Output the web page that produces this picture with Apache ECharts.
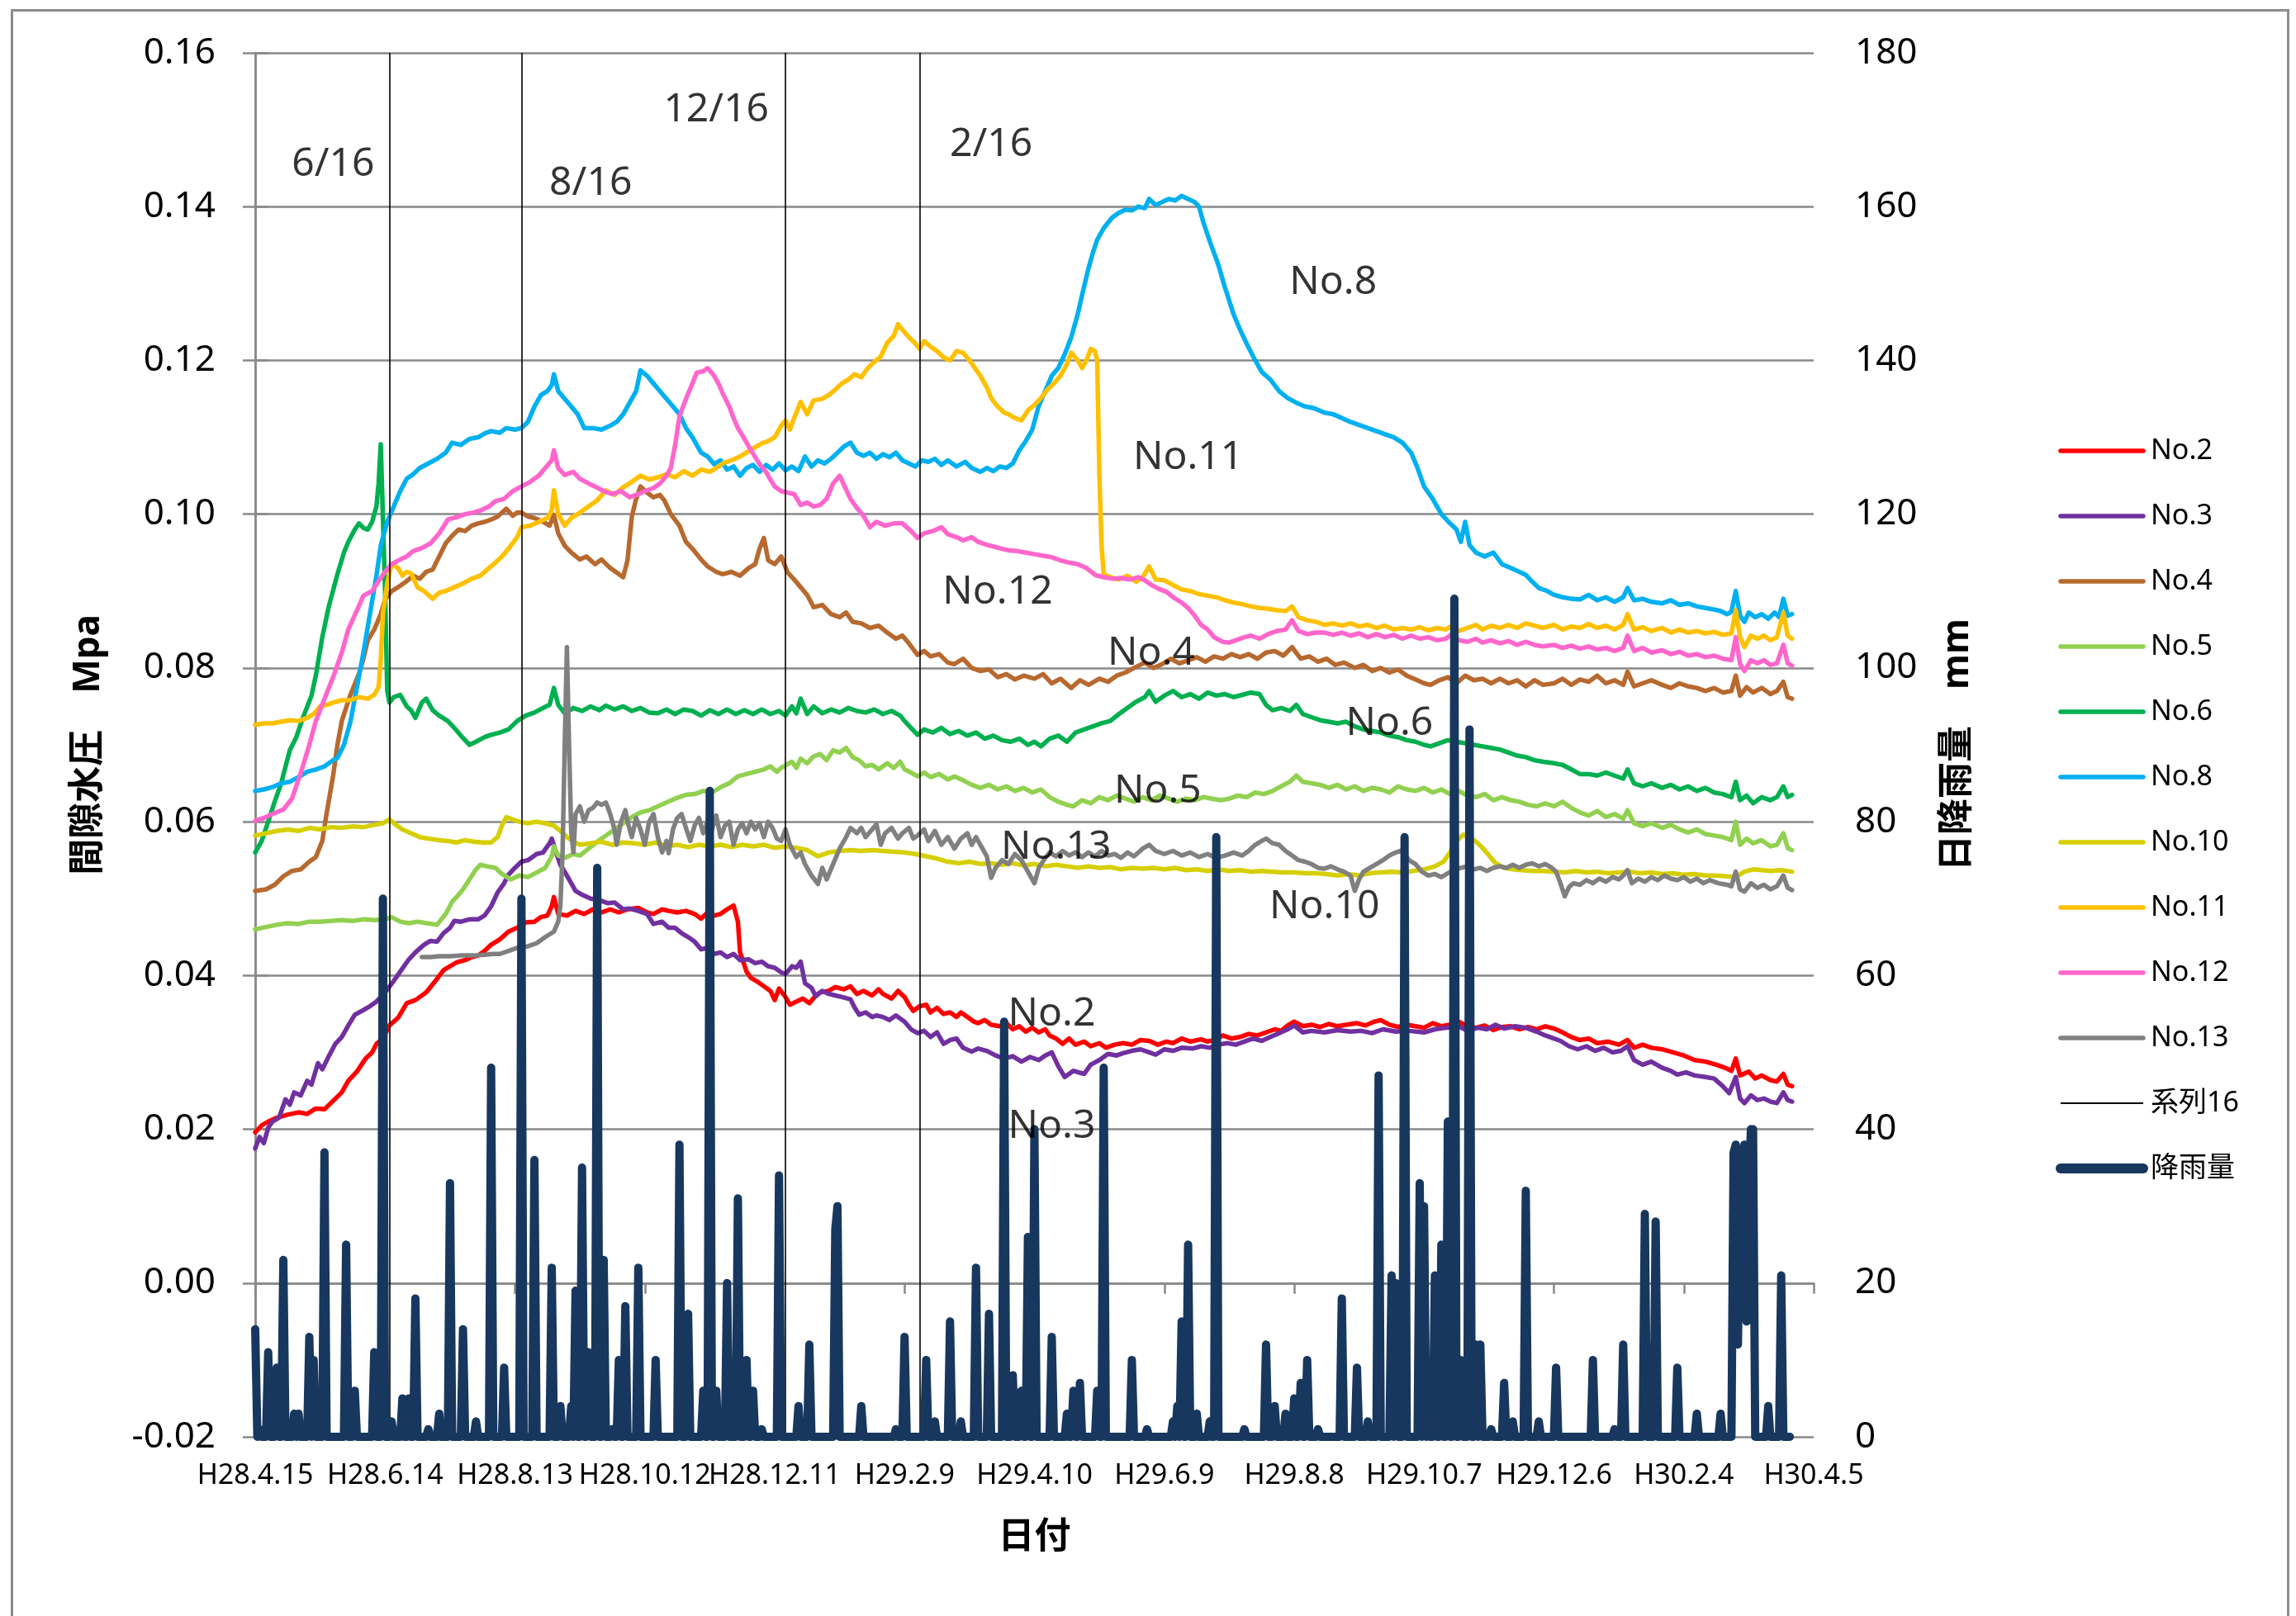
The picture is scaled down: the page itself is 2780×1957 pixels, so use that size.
<!DOCTYPE html>
<html><head><meta charset="utf-8">
<script src="https://cdn.jsdelivr.net/npm/echarts@6/dist/echarts.min.js"></script>
<style>html,body{margin:0;padding:0;background:#fff}#c{width:2780px;height:1957px}</style>
</head><body><div id="c"></div><script>
// x axis: day index from H28.4.15 (day 0); a tick label every 60 days
const xTickLabels = ['H28.4.15','H28.6.14','H28.8.13','H28.10.12','H28.12.11','H29.2.9','H29.4.10','H29.6.9','H29.8.8','H29.10.7','H29.12.6','H30.2.4','H30.4.5'];
const markerDays = [62, 123, 245, 307]; // 6/16, 8/16, 12/16, 2/16  (系列16)

const no2 = [[0,.0196],[3,.0205],[6,.0210],[10,.0215],[15,.0219],[20,.0222],[24,.0220],[28,.0227],[32,.0226],[36,.0237],[40,.0248],[43,.0263],[47,.0275],[51,.0292],[54,.0300],[56,.0311],[59,.0318],[62,.0335],[66,.0345],[70,.0364],[74,.0368],[79,.0378],[83,.0392],[87,.0407],[90,.0412],[93,.0417],[97,.0420],[100,.0424],[103,.0426],[106,.0432],[109,.0440],[113,.0447],[117,.0457],[121,.0462],[125,.0469],[129,.0470],[132,.0476],[135,.0478],[137,.0490],[138,.0502],[140,.0480],[144,.0478],[148,.0484],[152,.0480],[156,.0486],[160,.0482],[164,.0486],[168,.0482],[172,.0486],[177,.0488],[181,.0482],[184,.0480],[188,.0486],[191,.0484],[195,.0482],[199,.0484],[203,.0480],[206,.0474],[209,.0482],[212,.0478],[215,.0480],[218,.0486],[221,.0491],[223,.0470],[224,.0430],[227,.0405],[229,.0397],[232,.0392],[235,.0386],[238,.0380],[240,.0368],[242,.0383],[245,.0372],[247,.0362],[250,.0366],[253,.0370],[256,.0364],[259,.0374],[261,.0378],[265,.0380],[268,.0385],[272,.0382],[275,.0386],[278,.0376],[281,.0380],[285,.0374],[288,.0382],[290,.0376],[294,.0370],[297,.0380],[300,.0372],[302,.0362],[304,.0354],[307,.0360],[310,.0362],[312,.0352],[315,.0358],[318,.0350],[321,.0352],[324,.0346],[326,.0352],[329,.0346],[332,.0340],[334,.0338],[337,.0342],[340,.0336],[344,.0334],[347,.0338],[350,.0330],[353,.0334],[356,.0327],[359,.0332],[362,.0326],[365,.0330],[367,.0322],[370,.0318],[373,.0311],[376,.0318],[379,.0310],[383,.0314],[386,.0308],[390,.0312],[393,.0306],[397,.0310],[401,.0312],[405,.0310],[409,.0316],[413,.0315],[417,.0310],[421,.0314],[424,.0312],[428,.0318],[432,.0314],[437,.0317],[440,.0314],[443,.0316],[447,.0322],[451,.0318],[455,.0320],[459,.0324],[463,.0322],[467,.0326],[471,.0330],[474,.0328],[477,.0335],[480,.0340],[484,.0334],[488,.0336],[492,.0333],[496,.0337],[500,.0334],[504,.0336],[509,.0338],[513,.0335],[517,.0340],[520,.0342],[524,.0336],[528,.0333],[532,.0336],[536,.0334],[540,.0332],[544,.0338],[548,.0334],[552,.0336],[556,.0340],[560,.0334],[564,.0332],[568,.0335],[572,.0329],[576,.0333],[580,.0334],[584,.0330],[588,.0333],[592,.0330],[596,.0334],[600,.0331],[604,.0326],[608,.0320],[612,.0316],[616,.0318],[620,.0312],[625,.0314],[630,.0310],[634,.0316],[637,.0306],[641,.0310],[645,.0306],[650,.0304],[655,.0300],[660,.0296],[665,.0290],[670,.0288],[675,.0284],[679,.0280],[682,.0276],[684,.0292],[686,.0270],[690,.0275],[693,.0266],[696,.0270],[700,.0264],[703,.0262],[706,.0272],[708,.0258],[710,.0256]];

const no3 = [[0,.0175],[2,.0190],[4,.0182],[6,.0202],[8,.0210],[11,.0215],[14,.0239],[16,.0232],[18,.0248],[21,.0244],[24,.0263],[26,.0258],[29,.0286],[31,.0278],[34,.0295],[37,.0311],[40,.0320],[43,.0335],[46,.0349],[50,.0355],[53,.0360],[56,.0366],[60,.0378],[64,.0393],[67,.0405],[71,.0421],[74,.0430],[78,.0440],[81,.0445],[84,.0444],[87,.0455],[90,.0462],[92,.0471],[95,.0470],[99,.0473],[103,.0473],[106,.0478],[109,.0490],[112,.0508],[115,.0520],[117,.0531],[120,.0540],[123,.0548],[126,.0550],[130,.0558],[133,.0560],[136,.0572],[137,.0578],[139,.0560],[141,.0544],[144,.0530],[148,.0510],[151,.0505],[155,.0500],[159,.0498],[163,.0494],[166,.0495],[170,.0486],[173,.0487],[177,.0484],[181,.0480],[184,.0467],[188,.0470],[191,.0462],[194,.0462],[197,.0455],[200,.0450],[203,.0444],[206,.0434],[209,.0436],[212,.0428],[215,.0430],[218,.0424],[221,.0428],[224,.0420],[228,.0421],[231,.0416],[234,.0418],[237,.0412],[240,.0410],[243,.0404],[245,.0402],[248,.0412],[250,.0410],[252,.0418],[254,.0390],[257,.0384],[259,.0373],[262,.0380],[265,.0376],[268,.0374],[271,.0372],[275,.0369],[277,.0358],[279,.0349],[282,.0352],[285,.0346],[287,.0348],[290,.0346],[293,.0342],[296,.0348],[300,.0340],[303,.0330],[306,.0325],[309,.0328],[312,.0320],[315,.0326],[318,.0311],[321,.0316],[324,.0318],[327,.0306],[331,.0301],[334,.0305],[338,.0302],[342,.0296],[346,.0292],[350,.0295],[354,.0288],[358,.0294],[362,.0290],[365,.0296],[368,.0300],[371,.0282],[374,.0268],[378,.0276],[383,.0272],[386,.0284],[390,.0290],[394,.0298],[398,.0296],[401,.0299],[405,.0302],[409,.0304],[413,.0300],[416,.0297],[420,.0304],[424,.0302],[428,.0306],[433,.0305],[437,.0308],[441,.0306],[445,.0310],[449,.0312],[453,.0310],[457,.0314],[461,.0318],[465,.0315],[469,.0320],[473,.0325],[477,.0330],[480,.0335],[484,.0326],[488,.0328],[494,.0326],[500,.0329],[506,.0327],[511,.0328],[516,.0325],[521,.0330],[527,.0327],[533,.0328],[540,.0326],[545,.0330],[550,.0332],[556,.0334],[560,.0328],[565,.0332],[569,.0330],[573,.0336],[577,.0331],[582,.0334],[587,.0332],[592,.0327],[596,.0322],[600,.0318],[603,.0315],[607,.0308],[611,.0304],[615,.0308],[619,.0302],[623,.0306],[627,.0300],[631,.0302],[634,.0308],[637,.0290],[641,.0284],[645,.0288],[650,.0280],[654,.0276],[657,.0271],[661,.0274],[665,.0270],[670,.0268],[674,.0266],[678,.0256],[681,.0247],[684,.0268],[686,.0240],[688,.0234],[691,.0244],[694,.0238],[697,.0240],[700,.0236],[703,.0234],[706,.0248],[708,.0238],[710,.0236]];

const no4 = [[0,.0510],[5,.0512],[9,.0518],[13,.0529],[17,.0536],[21,.0538],[25,.0548],[28,.0554],[31,.0575],[33,.0611],[36,.0660],[38,.0700],[40,.0731],[44,.0765],[48,.0793],[50,.0812],[52,.0836],[55,.0850],[58,.0870],[60,.0889],[63,.0900],[66,.0905],[70,.0913],[73,.0920],[76,.0916],[79,.0925],[82,.0928],[85,.0945],[88,.0962],[91,.0972],[94,.0980],[97,.0978],[100,.0985],[103,.0988],[106,.0990],[109,.0993],[112,.0997],[116,.1007],[119,.0998],[121,.1002],[123,.1002],[126,.0997],[129,.0995],[133,.0990],[136,.0985],[138,.0999],[140,.0975],[143,.0959],[146,.0950],[150,.0941],[153,.0945],[157,.0935],[160,.0941],[164,.0930],[168,.0922],[170,.0918],[172,.0940],[174,.0997],[176,.1020],[178,.1036],[181,.1028],[184,.1022],[187,.1025],[189,.1018],[192,.1000],[196,.0985],[199,.0964],[202,.0955],[206,.0941],[209,.0932],[213,.0925],[216,.0922],[220,.0925],[224,.0920],[228,.0930],[231,.0935],[233,.0955],[235,.0969],[237,.0940],[240,.0935],[243,.0945],[246,.0924],[249,.0915],[252,.0905],[255,.0895],[258,.0879],[262,.0882],[266,.0870],[270,.0866],[273,.0872],[276,.0860],[280,.0858],[284,.0852],[288,.0855],[292,.0846],[296,.0838],[299,.0842],[302,.0832],[306,.0817],[309,.0822],[312,.0815],[316,.0818],[320,.0807],[323,.0805],[327,.0812],[331,.0800],[335,.0796],[339,.0798],[343,.0788],[347,.0792],[351,.0785],[355,.0790],[360,.0786],[364,.0792],[368,.0780],[372,.0786],[377,.0774],[381,.0784],[385,.0778],[390,.0786],[394,.0782],[398,.0790],[402,.0794],[406,.0800],[411,.0807],[415,.0800],[419,.0805],[423,.0812],[427,.0806],[431,.0810],[435,.0814],[439,.0808],[443,.0815],[447,.0812],[451,.0818],[455,.0814],[459,.0818],[463,.0812],[467,.0820],[471,.0822],[475,.0816],[479,.0827],[483,.0812],[487,.0815],[491,.0808],[495,.0812],[499,.0804],[503,.0807],[508,.0800],[512,.0804],[516,.0796],[520,.0800],[524,.0794],[528,.0798],[532,.0790],[536,.0785],[540,.0780],[543,.0778],[547,.0784],[551,.0788],[555,.0780],[559,.0790],[563,.0784],[567,.0786],[571,.0780],[575,.0786],[579,.0780],[583,.0784],[587,.0776],[591,.0784],[595,.0778],[600,.0780],[604,.0786],[608,.0778],[612,.0785],[616,.0782],[620,.0790],[624,.0780],[628,.0784],[632,.0778],[634,.0795],[637,.0776],[641,.0780],[645,.0784],[650,.0778],[654,.0774],[658,.0780],[662,.0776],[666,.0774],[670,.0770],[674,.0774],[678,.0768],[682,.0770],[684,.0790],[686,.0764],[689,.0775],[692,.0768],[696,.0774],[700,.0766],[703,.0770],[706,.0782],[708,.0762],[710,.0760]];

const no5 = [[0,.0460],[5,.0463],[10,.0466],[15,.0468],[20,.0467],[25,.0470],[30,.0470],[35,.0471],[40,.0472],[45,.0471],[50,.0473],[55,.0472],[60,.0473],[63,.0476],[67,.0470],[71,.0468],[75,.0470],[79,.0468],[84,.0466],[88,.0480],[91,.0496],[94,.0505],[96,.0512],[99,.0525],[102,.0538],[104,.0544],[107,.0542],[111,.0540],[114,.0532],[118,.0525],[122,.0530],[126,.0528],[130,.0534],[134,.0540],[137,.0555],[138,.0568],[140,.0556],[143,.0553],[147,.0558],[150,.0556],[154,.0565],[158,.0574],[162,.0582],[166,.0590],[170,.0598],[174,.0606],[178,.0612],[182,.0615],[186,.0620],[190,.0625],[194,.0630],[199,.0635],[203,.0636],[207,.0640],[211,.0638],[215,.0645],[219,.0650],[223,.0659],[227,.0662],[231,.0665],[235,.0668],[238,.0672],[241,.0665],[243,.0670],[246,.0675],[248,.0678],[250,.0670],[252,.0682],[255,.0676],[258,.0685],[261,.0688],[264,.0680],[267,.0693],[270,.0690],[273,.0696],[276,.0684],[279,.0680],[282,.0672],[285,.0674],[288,.0668],[292,.0676],[295,.0670],[298,.0678],[300,.0668],[303,.0664],[306,.0659],[309,.0664],[312,.0658],[316,.0662],[320,.0655],[323,.0659],[327,.0654],[331,.0648],[335,.0644],[339,.0648],[343,.0642],[347,.0646],[351,.0640],[355,.0644],[359,.0638],[363,.0642],[367,.0632],[371,.0626],[375,.0622],[378,.0620],[382,.0628],[386,.0624],[390,.0632],[394,.0628],[398,.0634],[402,.0630],[406,.0626],[410,.0632],[414,.0628],[418,.0634],[422,.0630],[426,.0626],[430,.0630],[434,.0628],[438,.0632],[442,.0630],[446,.0628],[450,.0630],[454,.0634],[458,.0632],[462,.0638],[466,.0636],[470,.0640],[474,.0646],[478,.0652],[481,.0660],[484,.0652],[488,.0650],[492,.0648],[496,.0644],[500,.0648],[504,.0642],[508,.0646],[512,.0640],[516,.0644],[520,.0642],[524,.0638],[528,.0646],[532,.0642],[536,.0640],[540,.0644],[544,.0638],[548,.0642],[552,.0636],[556,.0640],[560,.0634],[564,.0632],[568,.0636],[572,.0628],[576,.0632],[580,.0628],[584,.0626],[588,.0622],[592,.0620],[596,.0624],[600,.0620],[604,.0626],[608,.0618],[612,.0612],[616,.0608],[620,.0614],[624,.0606],[628,.0610],[632,.0604],[634,.0615],[637,.0598],[641,.0594],[645,.0598],[650,.0592],[654,.0596],[658,.0590],[662,.0586],[666,.0590],[670,.0584],[674,.0582],[678,.0580],[682,.0576],[684,.0600],[686,.0570],[689,.0578],[692,.0572],[696,.0576],[700,.0568],[703,.0570],[706,.0585],[708,.0566],[710,.0563]];

const no6 = [[0,.0560],[3,.0575],[6,.0600],[9,.0626],[12,.0650],[16,.0693],[19,.0710],[22,.0735],[26,.0764],[28,.0790],[31,.0840],[34,.0880],[38,.0922],[41,.0950],[43,.0964],[46,.0980],[48,.0988],[50,.0982],[52,.0980],[54,.0990],[56,.1010],[57,.1040],[58,.1091],[60,.0900],[61,.0770],[62,.0755],[64,.0762],[67,.0765],[70,.0750],[72,.0745],[74,.0735],[77,.0755],[79,.0760],[82,.0745],[85,.0738],[89,.0731],[92,.0722],[95,.0712],[99,.0700],[102,.0704],[106,.0710],[109,.0713],[113,.0716],[117,.0720],[121,.0731],[125,.0738],[129,.0742],[133,.0748],[136,.0752],[138,.0774],[140,.0752],[143,.0741],[147,.0748],[151,.0744],[155,.0750],[159,.0745],[162,.0751],[166,.0746],[170,.0750],[174,.0744],[178,.0748],[182,.0742],[186,.0741],[190,.0746],[194,.0740],[198,.0746],[202,.0744],[206,.0738],[210,.0745],[214,.0740],[218,.0746],[222,.0740],[226,.0745],[230,.0740],[234,.0746],[238,.0740],[242,.0744],[245,.0738],[248,.0750],[250,.0741],[252,.0760],[255,.0740],[258,.0750],[262,.0741],[266,.0746],[270,.0742],[274,.0748],[278,.0744],[282,.0742],[286,.0746],[290,.0740],[294,.0744],[298,.0738],[300,.0731],[303,.0722],[306,.0713],[309,.0720],[313,.0716],[317,.0722],[321,.0714],[325,.0718],[329,.0712],[333,.0716],[337,.0708],[341,.0712],[345,.0706],[349,.0704],[353,.0708],[357,.0700],[360,.0704],[363,.0698],[367,.0708],[371,.0712],[375,.0704],[379,.0716],[383,.0720],[387,.0724],[391,.0728],[395,.0731],[399,.0740],[403,.0748],[407,.0756],[411,.0762],[413,.0770],[416,.0756],[420,.0764],[424,.0770],[428,.0762],[432,.0766],[436,.0760],[440,.0768],[444,.0764],[448,.0766],[452,.0762],[456,.0765],[460,.0768],[464,.0766],[467,.0752],[470,.0745],[474,.0748],[478,.0744],[481,.0752],[484,.0740],[488,.0736],[492,.0732],[496,.0730],[500,.0728],[504,.0730],[508,.0724],[512,.0720],[516,.0718],[520,.0716],[524,.0712],[528,.0710],[532,.0706],[536,.0704],[540,.0700],[543,.0698],[547,.0702],[551,.0706],[555,.0704],[559,.0702],[563,.0700],[567,.0698],[571,.0696],[575,.0694],[579,.0690],[583,.0686],[587,.0684],[591,.0680],[595,.0678],[600,.0676],[604,.0674],[608,.0668],[612,.0662],[616,.0662],[620,.0660],[624,.0664],[628,.0660],[632,.0656],[634,.0668],[637,.0650],[641,.0646],[645,.0650],[650,.0644],[654,.0648],[658,.0642],[662,.0646],[666,.0640],[670,.0644],[674,.0638],[678,.0636],[682,.0632],[684,.0652],[686,.0628],[689,.0634],[692,.0624],[696,.0632],[700,.0628],[703,.0632],[706,.0646],[708,.0632],[710,.0635]];

const no8 = [[0,.0640],[4,.0642],[8,.0645],[12,.0650],[16,.0652],[20,.0658],[24,.0665],[28,.0668],[32,.0672],[36,.0680],[38,.0683],[41,.0700],[44,.0730],[47,.0775],[50,.0820],[53,.0870],[56,.0920],[58,.0959],[61,.0990],[64,.1010],[67,.1030],[70,.1046],[73,.1052],[76,.1060],[80,.1066],[84,.1072],[88,.1080],[91,.1093],[95,.1090],[99,.1098],[103,.1100],[106,.1105],[109,.1108],[113,.1106],[116,.1112],[120,.1110],[123,.1112],[126,.1120],[129,.1140],[132,.1155],[135,.1160],[137,.1168],[138,.1182],[140,.1160],[143,.1150],[146,.1140],[149,.1130],[152,.1112],[156,.1112],[160,.1110],[164,.1115],[167,.1120],[170,.1130],[173,.1145],[176,.1160],[178,.1187],[181,.1180],[184,.1170],[187,.1160],[190,.1150],[193,.1140],[196,.1130],[199,.1112],[202,.1100],[206,.1080],[209,.1075],[212,.1065],[215,.1070],[218,.1058],[221,.1062],[224,.1050],[227,.1060],[230,.1064],[233,.1055],[236,.1064],[239,.1058],[242,.1066],[245,.1057],[248,.1062],[251,.1056],[254,.1075],[257,.1062],[260,.1070],[263,.1066],[266,.1072],[269,.1080],[272,.1088],[275,.1093],[278,.1080],[281,.1076],[284,.1080],[287,.1072],[290,.1078],[293,.1074],[296,.1080],[299,.1070],[302,.1066],[305,.1062],[308,.1070],[311,.1068],[314,.1072],[317,.1064],[320,.1070],[324,.1062],[328,.1068],[331,.1060],[335,.1055],[338,.1060],[341,.1056],[344,.1062],[347,.1060],[350,.1066],[353,.1083],[356,.1095],[359,.1110],[362,.1141],[365,.1160],[368,.1180],[371,.1190],[374,.1208],[377,.1230],[380,.1260],[382,.1285],[385,.1320],[387,.1340],[389,.1357],[392,.1372],[396,.1386],[399,.1392],[402,.1396],[405,.1395],[408,.1400],[411,.1398],[413,.1410],[416,.1402],[419,.1406],[422,.1410],[425,.1408],[428,.1414],[431,.1410],[434,.1406],[436,.1400],[438,.1380],[441,.1355],[445,.1324],[448,.1295],[452,.1260],[455,.1240],[458,.1222],[462,.1200],[465,.1185],[469,.1175],[473,.1160],[477,.1151],[481,.1145],[485,.1140],[489,.1138],[494,.1132],[498,.1130],[502,.1125],[506,.1120],[510,.1116],[514,.1112],[518,.1108],[522,.1104],[526,.1100],[530,.1093],[534,.1080],[537,.1060],[540,.1036],[544,.1020],[548,.1000],[552,.0988],[555,.0980],[557,.0964],[559,.0990],[561,.0960],[564,.0950],[568,.0945],[572,.0950],[576,.0935],[580,.0930],[584,.0925],[587,.0921],[590,.0912],[593,.0904],[597,.0900],[600,.0895],[604,.0892],[608,.0890],[612,.0889],[616,.0895],[620,.0888],[624,.0892],[628,.0886],[632,.0892],[634,.0904],[637,.0888],[641,.0890],[645,.0886],[650,.0884],[654,.0888],[658,.0882],[662,.0884],[666,.0880],[670,.0878],[674,.0876],[677,.0874],[680,.0870],[682,.0873],[684,.0900],[686,.0868],[688,.0860],[690,.0872],[693,.0866],[696,.0870],[699,.0864],[702,.0872],[704,.0866],[706,.0890],[708,.0868],[710,.0870]];

const no10 = [[0,.0582],[5,.0585],[10,.0588],[15,.0590],[20,.0588],[25,.0592],[30,.0590],[35,.0593],[40,.0592],[45,.0594],[50,.0593],[55,.0596],[59,.0598],[62,.0603],[65,.0596],[68,.0590],[72,.0585],[76,.0580],[80,.0578],[85,.0576],[89,.0575],[93,.0573],[97,.0576],[101,.0574],[105,.0573],[109,.0573],[112,.0580],[114,.0595],[116,.0606],[119,.0603],[122,.0600],[126,.0598],[130,.0600],[134,.0598],[138,.0595],[141,.0588],[144,.0580],[147,.0574],[150,.0570],[155,.0572],[160,.0574],[165,.0570],[170,.0573],[175,.0572],[180,.0570],[185,.0573],[190,.0568],[195,.0570],[200,.0567],[205,.0570],[210,.0568],[215,.0570],[220,.0567],[225,.0570],[230,.0568],[235,.0570],[240,.0566],[245,.0568],[250,.0566],[255,.0563],[260,.0555],[265,.0560],[270,.0562],[275,.0563],[280,.0562],[285,.0563],[290,.0562],[295,.0561],[300,.0560],[305,.0558],[310,.0555],[315,.0552],[320,.0548],[325,.0546],[330,.0548],[335,.0545],[340,.0546],[345,.0544],[350,.0546],[355,.0543],[360,.0545],[365,.0542],[370,.0544],[375,.0542],[380,.0540],[385,.0542],[390,.0540],[395,.0541],[400,.0538],[405,.0540],[410,.0539],[415,.0540],[420,.0538],[425,.0540],[430,.0537],[435,.0538],[440,.0536],[445,.0538],[450,.0536],[455,.0537],[460,.0535],[465,.0536],[470,.0535],[475,.0534],[480,.0534],[485,.0533],[490,.0533],[495,.0532],[500,.0530],[505,.0532],[510,.0530],[515,.0533],[520,.0534],[525,.0535],[530,.0534],[535,.0536],[540,.0538],[545,.0542],[549,.0548],[552,.0560],[555,.0575],[558,.0583],[561,.0580],[564,.0574],[567,.0566],[570,.0556],[573,.0546],[577,.0540],[581,.0538],[585,.0537],[590,.0536],[595,.0536],[600,.0535],[605,.0534],[610,.0536],[615,.0534],[620,.0535],[625,.0533],[630,.0534],[635,.0535],[640,.0533],[645,.0534],[650,.0532],[655,.0533],[660,.0531],[665,.0532],[670,.0530],[675,.0530],[680,.0529],[684,.0528],[688,.0535],[692,.0538],[696,.0537],[700,.0536],[705,.0537],[710,.0535]];

const no11 = [[0,.0726],[4,.0728],[8,.0728],[12,.0730],[16,.0732],[20,.0731],[24,.0735],[27,.0740],[30,.0750],[33,.0752],[36,.0755],[40,.0758],[44,.0758],[48,.0762],[52,.0760],[55,.0765],[57,.0775],[58,.0810],[59,.0870],[61,.0910],[63,.0935],[66,.0930],[68,.0920],[70,.0925],[72,.0923],[75,.0905],[78,.0900],[82,.0890],[85,.0898],[88,.0900],[92,.0905],[96,.0910],[100,.0916],[104,.0920],[108,.0930],[111,.0937],[114,.0945],[117,.0955],[121,.0970],[123,.0983],[127,.0985],[131,.0990],[135,.0995],[137,.1005],[138,.1031],[140,.1000],[143,.0985],[146,.0995],[150,.1002],[154,.1010],[158,.1018],[162,.1031],[166,.1025],[170,.1035],[174,.1042],[178,.1050],[182,.1045],[186,.1048],[190,.1052],[194,.1048],[198,.1056],[202,.1050],[206,.1058],[210,.1055],[213,.1060],[216,.1066],[220,.1070],[224,.1075],[228,.1082],[231,.1087],[234,.1092],[237,.1095],[240,.1100],[243,.1115],[245,.1122],[247,.1110],[249,.1125],[252,.1146],[255,.1130],[258,.1148],[262,.1150],[265,.1155],[268,.1162],[271,.1170],[274,.1175],[277,.1182],[280,.1178],[283,.1190],[286,.1198],[289,.1205],[292,.1223],[295,.1232],[297,.1247],[299,.1240],[302,.1230],[305,.1222],[307,.1215],[309,.1225],[312,.1218],[315,.1212],[318,.1204],[321,.1200],[324,.1212],[327,.1210],[330,.1200],[333,.1188],[335,.1180],[338,.1165],[340,.1151],[343,.1140],[346,.1132],[348,.1130],[351,.1125],[354,.1122],[357,.1135],[360,.1142],[363,.1151],[366,.1162],[369,.1170],[372,.1180],[375,.1195],[377,.1210],[380,.1200],[382,.1190],[384,.1200],[386,.1215],[388,.1212],[389,.1200],[390,.1050],[391,.0960],[392,.0922],[395,.0918],[399,.0915],[403,.0920],[407,.0912],[410,.0918],[413,.0932],[416,.0915],[420,.0914],[424,.0908],[428,.0902],[432,.0900],[436,.0896],[440,.0894],[444,.0892],[448,.0888],[452,.0885],[456,.0883],[460,.0880],[464,.0878],[468,.0877],[472,.0875],[476,.0874],[479,.0880],[482,.0866],[486,.0862],[490,.0860],[494,.0856],[498,.0858],[502,.0855],[506,.0858],[510,.0854],[514,.0856],[518,.0852],[522,.0855],[526,.0850],[530,.0852],[534,.0850],[538,.0853],[542,.0849],[546,.0852],[550,.0850],[553,.0855],[556,.0848],[560,.0852],[564,.0856],[567,.0850],[571,.0855],[575,.0852],[579,.0856],[583,.0852],[587,.0858],[591,.0855],[595,.0852],[600,.0856],[604,.0850],[608,.0854],[612,.0852],[616,.0857],[620,.0852],[624,.0855],[628,.0850],[632,.0856],[634,.0870],[637,.0850],[641,.0853],[645,.0848],[650,.0852],[654,.0846],[658,.0850],[662,.0846],[666,.0848],[670,.0845],[674,.0847],[678,.0843],[682,.0845],[684,.0875],[686,.0840],[688,.0827],[691,.0842],[694,.0838],[697,.0842],[700,.0836],[703,.0840],[706,.0872],[708,.0842],[710,.0838]];

const no12 = [[0,.0601],[4,.0605],[8,.0610],[13,.0616],[17,.0630],[21,.0663],[25,.0700],[28,.0731],[32,.0760],[36,.0788],[40,.0820],[43,.0850],[47,.0875],[50,.0894],[54,.0900],[57,.0913],[60,.0925],[63,.0935],[67,.0941],[70,.0945],[73,.0952],[77,.0956],[81,.0962],[85,.0975],[89,.0993],[93,.0996],[97,.1000],[101,.1002],[105,.1006],[108,.1010],[111,.1017],[115,.1020],[119,.1030],[123,.1036],[127,.1042],[131,.1050],[134,.1060],[137,.1070],[138,.1083],[140,.1060],[143,.1051],[147,.1055],[150,.1046],[154,.1040],[157,.1036],[161,.1030],[165,.1026],[169,.1030],[173,.1022],[177,.1026],[180,.1030],[184,.1034],[187,.1040],[190,.1050],[192,.1060],[194,.1090],[196,.1127],[199,.1150],[202,.1170],[204,.1184],[207,.1186],[209,.1190],[212,.1180],[214,.1170],[216,.1157],[219,.1140],[221,.1125],[223,.1112],[226,.1098],[228,.1088],[230,.1079],[233,.1065],[236,.1055],[238,.1045],[240,.1036],[243,.1030],[246,.1028],[249,.1026],[252,.1012],[255,.1015],[258,.1010],[261,.1012],[264,.1020],[267,.1040],[270,.1050],[272,.1038],[275,.1020],[278,.1008],[281,.0998],[284,.0983],[287,.0990],[291,.0985],[295,.0988],[299,.0988],[303,.0978],[306,.0969],[309,.0975],[313,.0978],[317,.0983],[320,.0974],[324,.0970],[327,.0966],[331,.0970],[334,.0964],[338,.0960],[341,.0958],[345,.0955],[348,.0953],[352,.0952],[356,.0950],[360,.0948],[364,.0946],[368,.0944],[372,.0940],[376,.0937],[380,.0935],[384,.0930],[388,.0921],[392,.0918],[396,.0916],[400,.0917],[404,.0915],[408,.0918],[411,.0914],[414,.0908],[418,.0902],[421,.0899],[424,.0892],[428,.0885],[431,.0878],[434,.0868],[437,.0856],[440,.0850],[443,.0840],[447,.0834],[450,.0833],[453,.0836],[457,.0840],[460,.0842],[464,.0838],[468,.0844],[472,.0848],[476,.0850],[479,.0862],[482,.0848],[486,.0844],[490,.0846],[494,.0846],[498,.0843],[502,.0846],[506,.0842],[510,.0845],[514,.0840],[518,.0844],[522,.0840],[526,.0843],[530,.0838],[534,.0842],[538,.0838],[542,.0840],[546,.0836],[550,.0838],[553,.0844],[556,.0836],[560,.0834],[564,.0838],[567,.0833],[571,.0836],[575,.0832],[579,.0835],[583,.0830],[587,.0834],[591,.0830],[595,.0828],[600,.0830],[604,.0826],[608,.0829],[612,.0825],[616,.0828],[620,.0824],[624,.0826],[628,.0822],[632,.0826],[634,.0842],[637,.0822],[641,.0826],[645,.0820],[650,.0823],[654,.0818],[658,.0821],[662,.0816],[666,.0818],[670,.0814],[674,.0816],[678,.0812],[682,.0810],[684,.0840],[686,.0805],[688,.0796],[691,.0810],[694,.0806],[697,.0810],[700,.0804],[703,.0806],[706,.0830],[708,.0806],[710,.0803]];

const no13 = [[77,.0424],[81,.0424],[85,.0425],[90,.0425],[95,.0426],[101,.0426],[106,.0427],[110,.0428],[113,.0428],[117,.0432],[121,.0436],[126,.0438],[130,.0442],[134,.0450],[138,.0457],[140,.0470],[141,.0491],[142,.0560],[143,.0700],[144,.0827],[145,.0700],[146,.0587],[147,.0560],[148,.0610],[150,.0620],[152,.0600],[154,.0615],[156,.0618],[158,.0625],[160,.0622],[162,.0625],[164,.0610],[166,.0590],[167,.0570],[169,.0600],[171,.0615],[172,.0600],[174,.0580],[176,.0605],[178,.0590],[180,.0570],[182,.0600],[184,.0610],[186,.0580],[188,.0560],[190,.0575],[191,.0559],[193,.0590],[195,.0605],[197,.0610],[199,.0592],[201,.0575],[203,.0595],[205,.0605],[207,.0585],[209,.0600],[211,.0590],[213,.0608],[215,.0580],[217,.0595],[219,.0600],[221,.0570],[223,.0590],[225,.0598],[227,.0585],[229,.0600],[231,.0590],[233,.0598],[235,.0580],[237,.0600],[239,.0592],[241,.0578],[243,.0575],[245,.0590],[247,.0570],[250,.0554],[252,.0560],[254,.0545],[257,.0530],[260,.0519],[262,.0540],[264,.0525],[267,.0545],[270,.0565],[273,.0580],[275,.0592],[278,.0585],[280,.0592],[282,.0580],[285,.0590],[287,.0597],[289,.0570],[291,.0585],[294,.0592],[297,.0578],[299,.0585],[302,.0592],[304,.0578],[306,.0582],[309,.0590],[311,.0575],[314,.0588],[317,.0570],[320,.0580],[323,.0565],[326,.0578],[329,.0585],[331,.0570],[333,.0580],[336,.0565],[338,.0555],[340,.0527],[342,.0540],[345,.0550],[348,.0545],[351,.0558],[354,.0550],[357,.0535],[360,.0520],[362,.0540],[365,.0553],[367,.0560],[370,.0555],[373,.0562],[376,.0556],[379,.0560],[382,.0554],[385,.0560],[388,.0555],[391,.0562],[394,.0556],[397,.0558],[400,.0553],[403,.0560],[406,.0555],[410,.0565],[413,.0570],[416,.0562],[420,.0558],[424,.0562],[428,.0556],[432,.0560],[436,.0554],[440,.0558],[444,.0553],[448,.0556],[452,.0560],[456,.0556],[459,.0562],[462,.0570],[465,.0575],[467,.0578],[470,.0572],[473,.0570],[476,.0562],[479,.0556],[482,.0550],[485,.0548],[488,.0545],[491,.0540],[494,.0539],[497,.0542],[500,.0538],[503,.0535],[506,.0530],[508,.0510],[510,.0525],[512,.0535],[515,.0540],[518,.0545],[521,.0550],[524,.0556],[527,.0560],[530,.0563],[533,.0550],[536,.0545],[539,.0535],[542,.0530],[545,.0532],[548,.0528],[551,.0533],[554,.0538],[557,.0540],[560,.0542],[563,.0538],[566,.0540],[569,.0536],[572,.0540],[575,.0542],[578,.0540],[581,.0544],[584,.0540],[587,.0544],[590,.0546],[593,.0542],[596,.0545],[599,.0540],[601,.0535],[603,.0520],[605,.0503],[607,.0515],[609,.0520],[612,.0518],[615,.0524],[618,.0520],[621,.0526],[624,.0522],[627,.0528],[630,.0525],[632,.0530],[634,.0537],[636,.0520],[639,.0526],[642,.0522],[645,.0528],[648,.0524],[651,.0530],[654,.0526],[657,.0524],[660,.0528],[663,.0522],[666,.0526],[669,.0520],[672,.0524],[676,.0520],[680,.0518],[682,.0516],[684,.0535],[686,.0512],[688,.0509],[691,.0520],[694,.0514],[697,.0518],[700,.0512],[703,.0516],[706,.0530],[708,.0514],[710,.0511]];

// daily rainfall (mm): [day, mm] for rainy days; all other recorded days are 0
const rainDays = [[0,14],[2,1],[6,11],[10,9],[13,23],[18,3],[20,3],[25,13],[27,10],[32,37],[42,25],[46,6],[55,11],[59,70],[63,2],[68,5],[71,5],[74,18],[80,1],[85,3],[90,33],[96,14],[102,2],[109,48],[115,9],[123,70],[129,36],[137,22],[141,4],[146,4],[148,19],[151,35],[154,11],[158,74],[161,23],[165,1],[168,10],[171,17],[177,22],[185,10],[196,38],[200,16],[207,6],[210,84],[213,6],[218,20],[223,31],[227,10],[230,6],[234,1],[242,34],[251,4],[256,12],[268,27],[269,30],[280,4],[296,1],[300,13],[310,10],[314,2],[321,15],[326,2],[333,22],[339,16],[346,54],[350,8],[354,6],[357,26],[360,40],[368,13],[375,3],[378,6],[381,7],[389,6],[392,48],[405,10],[412,1],[424,2],[426,4],[428,15],[431,25],[435,3],[441,2],[444,78],[457,1],[467,12],[471,4],[476,3],[480,5],[483,7],[486,10],[491,1],[502,18],[509,9],[514,2],[519,47],[525,21],[527,20],[531,78],[538,33],[540,30],[542,2],[545,21],[548,25],[551,41],[554,109],[557,10],[561,92],[564,12],[566,12],[571,1],[577,7],[581,2],[587,32],[593,2],[601,9],[618,10],[628,1],[632,12],[642,29],[647,28],[657,9],[666,3],[677,3],[683,37],[684,38],[685,12],[686,30],[687,37],[688,38],[689,15],[690,32],[691,40],[692,40],[699,4],[705,21]];
const rainRecordedDays = 710;

const annotations = [['6/16',36,0.1455],['8/16',155,0.1430],['12/16',213,0.1526],['2/16',340,0.1480],['No.8',498,0.1301],['No.11',431,0.1073],['No.12',343,0.0898],['No.4',414,0.0819],['No.6',524,0.0728],['No.5',417,0.0639],['No.13',370,0.0566],['No.10',494,0.0489],['No.2',368,0.0349],['No.3',368,0.0203]];

const seriesDefs = [
  ['No.2', no2, '#FF0000'], ['No.3', no3, '#7030A0'], ['No.4', no4, '#B7692F'],
  ['No.5', no5, '#92D050'], ['No.6', no6, '#00B050'], ['No.8', no8, '#00B0F0'],
  ['No.10', no10, '#D6CF00'], ['No.11', no11, '#FFC000'], ['No.12', no12, '#FF66CC'],
  ['No.13', no13, '#808080']
];

const rainDaily = [];
for (let d = 0; d < rainRecordedDays; d++) rainDaily.push([d, 0]);
rainDays.forEach(([d, v]) => { rainDaily[d][1] = v; });

const FONT = "'Noto Sans', 'Noto Sans CJK JP', sans-serif";
const GRID = {left: 309, top: 64, width: 1887, height: 1676};
const AX = '#898989';
const PORE_W = 5.5, RAIN_W = 10, MARK_W = 1.6;

const series = seriesDefs.map(([name, data, color]) => ({
  name, type: 'line', data, xAxisIndex: 0, yAxisIndex: 0,
  symbol: 'none', showSymbol: false, silent: true,
  lineStyle: {color, width: PORE_W, join: 'round', cap: 'round'},
  itemStyle: {color}, z: 3
}));
series.push({
  name: '系列16', type: 'line', data: [], xAxisIndex: 0, yAxisIndex: 0,
  symbol: 'none', lineStyle: {color: '#000', width: MARK_W}, itemStyle: {color: '#000'}, z: 4,
  markLine: {symbol: ['none', 'none'], silent: true, animation: false, label: {show: false},
    lineStyle: {color: '#000', width: MARK_W, type: 'solid'},
    data: markerDays.map(d => ({xAxis: d}))}
});
series.push({
  name: '降雨量', type: 'line', data: rainDaily, xAxisIndex: 0, yAxisIndex: 1,
  symbol: 'none', showSymbol: false, silent: true,
  lineStyle: {color: '#17375E', width: RAIN_W, join: 'round', cap: 'round'},
  itemStyle: {color: '#17375E'}, z: 5
});
series.push({
  name: 'notes', type: 'scatter', xAxisIndex: 0, yAxisIndex: 0, silent: true,
  symbolSize: 1, itemStyle: {color: 'rgba(0,0,0,0)'}, z: 10,
  label: {show: true, position: 'inside', formatter: p => p.data[2], color: '#000', fontSize: 48, fontFamily: FONT},
  data: annotations.map(a => [a[1], a[2], a[0]])
});

const legendData = seriesDefs.map(([name, , color]) => ({
  name, itemStyle: {opacity: 0}, lineStyle: {width: 5.5, color, cap: 'round'}
}));
legendData.push({name: '系列16', itemStyle: {opacity: 0}, lineStyle: {width: 2, color: '#000'}});
legendData.push({name: '降雨量', itemStyle: {opacity: 0}, lineStyle: {width: 12, color: '#17375E', cap: 'round'}});

const chart = echarts.init(document.getElementById('c'), null, {renderer: 'canvas'});
chart.setOption({
  animation: false,
  backgroundColor: '#fff',
  textStyle: {fontFamily: FONT, color: '#000'},
  grid: Object.assign({containLabel: false, outerBoundsMode: 'none'}, GRID),
  legend: {
    orient: 'vertical', left: 2489, top: 529, padding: 0,
    itemWidth: 100, itemHeight: 20, itemGap: 45,
    data: legendData,
    itemStyle: {opacity: 0},
    textStyle: {fontSize: 34, color: '#000', fontFamily: FONT, padding: [0, 0, 0, 4]},
    selectedMode: false
  },
  xAxis: [
    {type: 'value', min: 0, max: 720, interval: 60, position: 'bottom',
     axisLine: {show: true, onZero: true, onZeroAxisIndex: 0, lineStyle: {color: AX, width: 2.5}},
     axisTick: {show: true, length: 13, lineStyle: {color: AX, width: 2.5}},
     axisLabel: {show: false}, splitLine: {show: false}},
    {type: 'value', min: 0, max: 720, interval: 60, position: 'bottom',
     axisLine: {show: false, onZero: false}, axisTick: {show: false}, splitLine: {show: false},
     axisLabel: {show: true, margin: 30, fontSize: 34, color: '#000', fontFamily: FONT,
       formatter: v => xTickLabels[Math.round(v / 60)] || ''},
     name: '日付', nameLocation: 'middle', nameGap: 100,
     nameTextStyle: {fontSize: 44, fontWeight: 'bold', color: '#000', fontFamily: FONT}}
  ],
  yAxis: [
    {type: 'value', min: -0.02, max: 0.16, interval: 0.02, position: 'left',
     axisLine: {show: true, lineStyle: {color: AX, width: 2.5}},
     axisTick: {show: true, length: 15, lineStyle: {color: AX, width: 2.5}},
     splitLine: {show: true, lineStyle: {color: AX, width: 2.5}},
     axisLabel: {margin: 48, fontSize: 44, color: '#000', fontFamily: FONT, formatter: v => v.toFixed(2)},
     name: '間隙水圧　Mpa', nameLocation: 'middle', nameRotate: 90, nameGap: 180,
     nameTextStyle: {fontSize: 44, fontWeight: 'bold', color: '#000', fontFamily: FONT}},
    {type: 'value', min: 0, max: 180, interval: 20, position: 'right',
     axisLine: {show: true, lineStyle: {color: AX, width: 2.5}},
     axisTick: {show: true, length: 16, lineStyle: {color: AX, width: 2.5}},
     splitLine: {show: false},
     axisLabel: {margin: 50, fontSize: 44, color: '#000', fontFamily: FONT},
     name: '日降雨量　mm', nameLocation: 'middle', nameRotate: 90, nameGap: 152,
     nameTextStyle: {fontSize: 44, fontWeight: 'bold', color: '#000', fontFamily: FONT}}
  ],
  graphic: [{type: 'rect', left: 12, top: 10, silent: true,
    shape: {width: 2756, height: 2000}, style: {fill: 'none', stroke: '#8c8c8c', lineWidth: 3}}],
  series
});
</script></body></html>
